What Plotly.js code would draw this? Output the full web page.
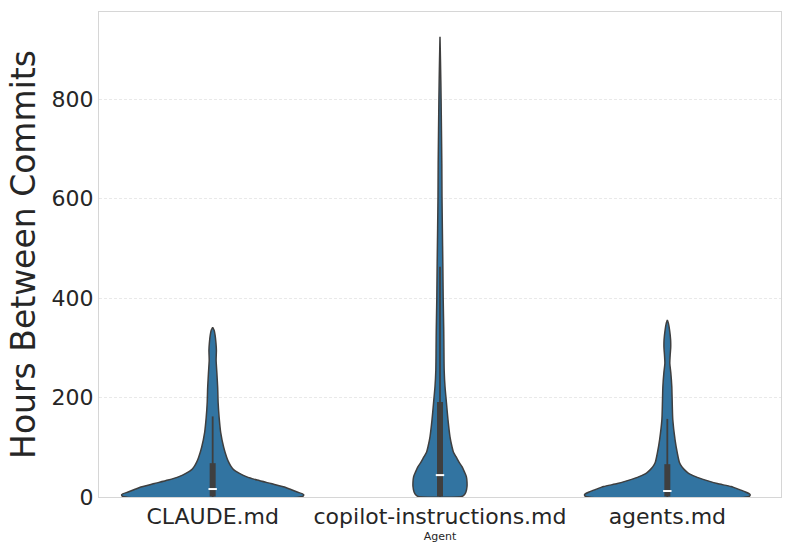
<!DOCTYPE html>
<html>
<head>
<meta charset="utf-8">
<script src="https://cdn.plot.ly/plotly-3.0.1.min.js"></script>
<style>html,body{margin:0;padding:0;background:#fff;}#chart{width:793px;height:555px;}</style>
</head>
<body>
<div id="chart"></div>
<script>
// Categories
const agents = ["CLAUDE.md", "copilot-instructions.md", "agents.md"];

// Density profiles (hours level, relative density; 1 = widest violin)
const claudeHours   = [1, 5, 10, 15, 20, 27, 34, 41, 48, 55, 62, 70, 80, 100, 130, 160, 190, 220, 250, 275, 295, 310, 325, 335, 341];
const claudeDensity = [0.99, 1.0, 0.93, 0.86, 0.79, 0.64, 0.49, 0.37, 0.29, 0.23, 0.20, 0.176, 0.154, 0.121, 0.088, 0.071, 0.060, 0.055, 0.046, 0.038, 0.041, 0.036, 0.027, 0.016, 0];

const copilotHours   = [1, 5, 10, 21, 30, 41, 50, 61, 70, 81, 90, 101, 121, 155, 189, 222, 255, 300, 336, 400, 470, 540, 604, 670, 738, 800, 838, 880, 925];
const copilotDensity = [0.24, 0.27, 0.285, 0.297, 0.297, 0.29, 0.27, 0.242, 0.209, 0.176, 0.148, 0.132, 0.11, 0.088, 0.071, 0.055, 0.046, 0.043, 0.041, 0.035, 0.031, 0.026, 0.022, 0.020, 0.016, 0.012, 0.009, 0.005, 0];

const agentsHours   = [1, 5, 10, 15, 21, 27, 34, 41, 48, 55, 61, 70, 88, 115, 155, 181, 222, 250, 269, 285, 300, 316, 335, 350, 356];
const agentsDensity = [0.90, 0.91, 0.86, 0.79, 0.70, 0.55, 0.42, 0.31, 0.23, 0.187, 0.159, 0.132, 0.11, 0.085, 0.060, 0.055, 0.049, 0.038, 0.027, 0.031, 0.037, 0.036, 0.025, 0.011, 0];

// Box statistics
const whiskerLow  = [0, 0, 0];
const q1          = [1, 1, 1];
const medians     = [16, 44, 12];
const q3          = [68, 191, 66];
const whiskerHigh = [162, 463, 157];

// Axis ticks
const yTicks = [0, 200, 400, 600, 800];

const profiles = [
  {h: claudeHours, d: claudeDensity},
  {h: copilotHours, d: copilotDensity},
  {h: agentsHours, d: agentsDensity}
];

const HALF = 0.4;
const fillColor = "#3274a1";
const edgeColor = "#3f3f3f";
const traces = [];

profiles.forEach((p, i) => {
  const xs = [], ys = [];
  for (let k = 0; k < p.h.length; k++) { xs.push(i + p.d[k] * HALF); ys.push(p.h[k]); }
  for (let k = p.h.length - 1; k >= 0; k--) { xs.push(i - p.d[k] * HALF); ys.push(p.h[k]); }
  xs.push(xs[0]); ys.push(ys[0]);
  traces.push({
    type: "scatter", mode: "lines", x: xs, y: ys, fill: "toself",
    fillcolor: fillColor, line: {color: edgeColor, width: 1.5, shape: "spline", smoothing: 0.6},
    hoverinfo: "skip", showlegend: false
  });
});

agents.forEach((a, i) => {
  traces.push({
    type: "scatter", mode: "lines", x: [i, i], y: [whiskerLow[i], whiskerHigh[i]],
    line: {color: edgeColor, width: 1.8}, showlegend: false, hoverinfo: "skip"
  });
  traces.push({
    type: "scatter", mode: "lines", x: [i, i], y: [q1[i], q3[i]],
    line: {color: edgeColor, width: 6}, showlegend: false, hoverinfo: "skip"
  });
});

traces.push({
  type: "scatter", mode: "markers", x: agents.map((a, i) => i), y: medians,
  marker: {symbol: "line-ew", size: 6, color: "white", line: {color: "white", width: 2}},
  showlegend: false, hoverinfo: "skip"
});

Plotly.newPlot("chart", traces, {
  width: 793, height: 555,
  margin: {l: 99, r: 12, t: 12, b: 58},
  paper_bgcolor: "white", plot_bgcolor: "white",
  font: {family: "DejaVu Sans", color: "#262626", size: 14},
  xaxis: {
    range: [-0.5, 2.5], tickmode: "array", tickvals: agents.map((a, i) => i), ticktext: agents,
    showgrid: false, zeroline: false, showline: true, mirror: true, linecolor: "#d6d6d6", linewidth: 1,
    ticks: "", tickfont: {family: "DejaVu Sans", size: 22, color: "#262626"},
    title: {text: "Agent", font: {family: "DejaVu Sans", size: 11, color: "#262626"}, standoff: 3},
    automargin: false
  },
  yaxis: {
    range: [0, 975], tickmode: "array", tickvals: yTicks, ticktext: yTicks.map(String),
    showgrid: true, gridcolor: "#e3e3e3", griddash: "3px,2px", gridwidth: 0.8,
    zeroline: false, showline: true, mirror: true, linecolor: "#d6d6d6", linewidth: 1,
    ticks: "", tickfont: {family: "DejaVu Sans", size: 22, color: "#262626"},
    title: {text: "Hours Between Commits", font: {family: "DejaVu Sans", size: 33, color: "#262626"}, standoff: 6},
    automargin: false
  },
  showlegend: false
}, {displayModeBar: false, staticPlot: true});
</script>
</body>
</html>
